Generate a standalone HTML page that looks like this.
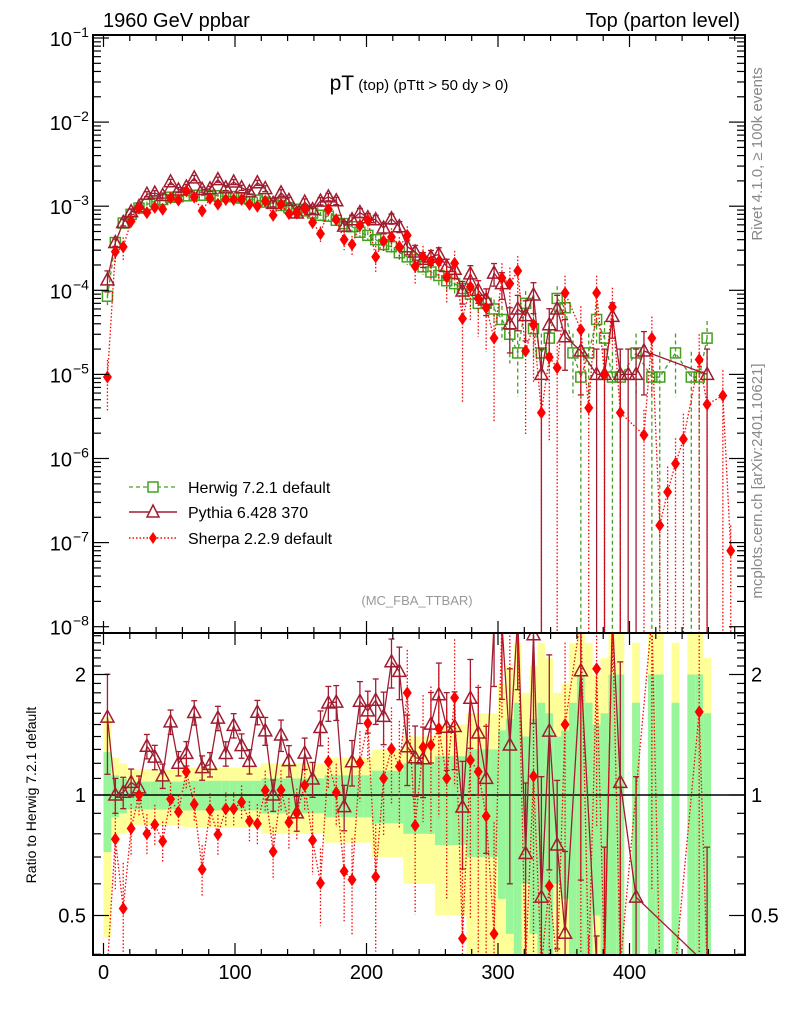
<!DOCTYPE html>
<html><head><meta charset="utf-8"><style>
html,body{margin:0;padding:0;background:#fff;width:786px;height:1024px;overflow:hidden;}
svg{display:block;font-family:"Liberation Sans",sans-serif;overflow:hidden;}
</style></head><body>
<svg id="chart" width="786" height="1024" viewBox="0 0 786 1024" xmlns="http://www.w3.org/2000/svg">
<defs>
<clipPath id="clipMain"><rect x="93" y="35" width="652" height="598"/></clipPath>
<clipPath id="clipRatio"><rect x="93" y="633" width="652" height="322"/></clipPath>
</defs>
<g id="bands" clip-path="url(#clipRatio)"></g>
<g id="marks"></g>
<rect x="93" y="35" width="652" height="598" fill="none" stroke="#000" stroke-width="2"/>
<rect x="93" y="633" width="652" height="322" fill="none" stroke="#000" stroke-width="2"/>
<g id="axes"></g>
<text x="103" y="27" font-size="20">1960 GeV ppbar</text>
<text x="740" y="27" font-size="20" text-anchor="end">Top (parton level)</text>
<text x="419" y="90" text-anchor="middle"><tspan font-size="21">pT</tspan><tspan font-size="15"> (top) (pTtt &gt; 50 dy &gt; 0)</tspan></text>
<text x="417" y="605" font-size="13" fill="#999" text-anchor="middle">(MC_FBA_TTBAR)</text>
<text transform="translate(762,154) rotate(-90)" font-size="15" fill="#888" text-anchor="middle">Rivet 4.1.0, ≥ 100k events</text>
<text transform="translate(762,481) rotate(-90)" font-size="15" fill="#888" text-anchor="middle">mcplots.cern.ch [arXiv:2401.10621]</text>
<text transform="translate(36,795) rotate(-90)" font-size="14" text-anchor="middle">Ratio to Herwig 7.2.1 default</text>
<g>
<g>
<line x1="129" y1="487" x2="177" y2="487" stroke="#44a020" stroke-width="1.3" stroke-dasharray="4,3"/>
<rect x="148" y="482" width="10" height="10" fill="#fff" stroke="#44a020" stroke-width="1.5"/>
<text x="188" y="493" font-size="16">Herwig 7.2.1 default</text></g>
<g>
<line x1="129" y1="512" x2="177" y2="512" stroke="#a01c30" stroke-width="1.5"/>
<path d="M153,505 L159,517 L147,517 Z" fill="#fff" stroke="#a01c30" stroke-width="1.5"/>
<text x="188" y="518" font-size="16">Pythia 6.428 370</text></g>
<g>
<line x1="129" y1="538" x2="177" y2="538" stroke="#ff0000" stroke-width="1.5" stroke-dasharray="1.5,2"/>
<path d="M153,532 L157,538 L153,544 L149,538 Z" fill="#ff0000"/>
<text x="188" y="544" font-size="16">Sherpa 2.2.9 default</text></g>
</g>
</svg>
<script>
const binCenters=[3,9,15,21,27,33,39,45,51,57,63,69,75,81,87,93,99,105,111,117,123,129,135,141,147,153,159,165,171,177,183,189,195,201,207,213,219,225,231,237,243,249,255,261,267,273,279,285,291,297,303,309,315,321,327,333,339,345,351,357,363,369,375,381,387,393,399,405,411,417,423,429,435,441,447,453,459,465,471,477];
const herwig=[8.5e-5,3.7e-4,6.3e-4,8.0e-4,9.5e-4,1.05e-3,1.15e-3,1.2e-3,1.28e-3,1.3e-3,1.33e-3,1.35e-3,1.35e-3,1.35e-3,1.33e-3,1.3e-3,1.3e-3,1.25e-3,1.22e-3,1.18e-3,1.12e-3,1.08e-3,1.02e-3,9.6e-4,9.2e-4,8.8e-4,8.3e-4,7.8e-4,7.6e-4,6.8e-4,6.2e-4,5.7e-4,4.9e-4,4.5e-4,4.0e-4,3.5e-4,3.3e-4,2.8e-4,2.5e-4,2.3e-4,1.9e-4,1.65e-4,1.5e-4,1.3e-4,1.2e-4,1.05e-4,9e-5,7e-5,7e-5,6e-5,4.5e-5,3e-5,1.8e-5,7e-5,3.5e-5,1.8e-5,2.7e-5,8e-5,6.2e-5,1.8e-5,9.3e-6,1.8e-5,4.5e-5,2.7e-5,9.3e-6,9.3e-6,null,1.8e-5,null,9.3e-6,9.3e-6,null,1.8e-5,null,9.3e-6,9.3e-6,2.7e-5,null,null,null];
const herwigErr=[0.28,0.12,0.1,0.08,0.08,0.08,0.08,0.08,0.08,0.08,0.085,0.085,0.085,0.085,0.085,0.085,0.085,0.085,0.085,0.085,0.1,0.1,0.1,0.1,0.1,0.1,0.1,0.1,0.12,0.12,0.12,0.12,0.12,0.12,0.15,0.15,0.15,0.15,0.2,0.2,0.2,0.2,0.25,0.25,0.25,0.25,0.3,0.3,0.3,0.3,0.45,0.55,0.7,0.4,0.55,0.7,0.6,0.4,0.45,0.7,1,0.7,0.5,0.6,1,1,null,0.7,null,1,1,null,0.7,null,1,1,0.6,null,null,null];
const pythia=[1.33e-4,3.7e-4,6.4e-4,8.6e-4,9.9e-4,1.39e-3,1.43e-3,1.34e-3,1.95e-3,1.56e-3,1.69e-3,2.17e-3,1.58e-3,1.61e-3,2.07e-3,1.65e-3,1.94e-3,1.66e-3,1.48e-3,1.9e-3,1.62e-3,1.08e-3,1.44e-3,1.17e-3,8.3e-4,1.12e-3,9.1e-4,1.15e-3,1.29e-3,1.16e-3,5.8e-4,6.9e-4,8.4e-4,7.3e-4,6.9e-4,5.5e-4,7.1e-4,5.7e-4,3.3e-4,2.85e-4,2.34e-4,2.48e-4,2.67e-4,1.92e-4,1.78e-4,9.8e-5,1.57e-4,1.0e-4,7.7e-5,1.6e-4,1.2e-4,4e-5,6e-5,5e-5,8.8e-5,1e-5,3.9e-5,6e-5,2.8e-5,null,1.9e-5,null,1e-5,1e-5,4.9e-5,1e-5,1e-5,1e-5,1.9e-5,null,null,null,null,null,null,null,1e-5,null,null,null];
const pythiaErr=[0.28,0.1,0.09,0.08,0.07,0.07,0.07,0.07,0.07,0.07,0.07,0.07,0.07,0.07,0.07,0.07,0.07,0.07,0.07,0.07,0.08,0.09,0.09,0.09,0.1,0.09,0.1,0.1,0.1,0.1,0.13,0.13,0.12,0.12,0.13,0.15,0.14,0.15,0.2,0.2,0.2,0.2,0.2,0.22,0.22,0.3,0.25,0.3,0.35,0.3,0.35,0.55,0.45,0.5,0.4,1,0.55,0.45,0.6,null,0.7,null,1,1,0.45,1,1,1,0.7,null,null,null,null,null,null,null,1,null,null,null];
const sherpa=[9.3e-6,2.87e-4,3.28e-4,6.6e-4,9.5e-4,8.4e-4,9.7e-4,9.2e-4,1.25e-3,1.18e-3,1.52e-3,1.28e-3,8.8e-4,1.24e-3,1.06e-3,1.2e-3,1.2e-3,1.2e-3,1.05e-3,1.0e-3,1.15e-3,7.8e-4,1.05e-3,8.2e-4,8.3e-4,9.3e-4,6.4e-4,4.7e-4,9.2e-4,6.9e-4,4.0e-4,3.5e-4,5.9e-4,6.8e-4,2.5e-4,3.85e-4,4.3e-4,3.3e-4,4.5e-4,1.93e-4,2.5e-4,2.2e-4,2.2e-4,1.43e-4,2.1e-4,4.6e-5,1.1e-4,8e-5,6.2e-5,2.7e-5,1.4e-4,1.2e-4,1.7e-4,1.9e-5,3.9e-5,3.5e-6,1.6e-5,1.2e-5,9.3e-5,null,3.4e-5,4e-6,9.3e-5,1e-5,6.3e-5,3.5e-6,null,null,1.9e-6,2.7e-5,1.6e-7,4e-7,8.7e-7,1.7e-6,null,1.5e-5,4.4e-6,null,5.6e-6,8e-8];
const sherpaErr=[0.6,0.25,0.3,0.15,0.12,0.12,0.12,0.12,0.1,0.1,0.1,0.1,0.15,0.1,0.12,0.1,0.1,0.1,0.12,0.12,0.12,0.15,0.12,0.15,0.15,0.14,0.18,0.22,0.15,0.18,0.25,0.27,0.2,0.2,0.35,0.28,0.27,0.3,0.28,0.4,0.35,0.4,0.4,0.5,0.4,0.9,0.6,0.65,0.7,0.9,0.5,0.55,0.5,0.9,0.8,1,0.9,1,0.6,null,0.9,1,0.6,1,0.7,1,null,null,1,0.8,1,1,1,1,null,1,1,null,1,1];
const ratioTicks=[0.5,1,2];
const xTickLabels=[0,100,200,300,400];
const yDecades=[-1,-2,-3,-4,-5,-6,-7,-8];

const NS='http://www.w3.org/2000/svg';
const X0=93,X1=745,MT=35,MB=633,RT=633,RB=955;
const xS=v=>103.5+1.315*v;
const yM=v=>38+(-1-Math.log10(v))*84.1;
const yR=r=>795-Math.log2(r)*120.5;
const clampM=y=>Math.max(MT-15,Math.min(MB+15,y));
const clampR=y=>Math.max(RT-15,Math.min(RB+10,y));
const HC='#44a020',PC='#a01c30',SC='#ff0000';
function mk(tag,attrs,parent){const e=document.createElementNS(NS,tag);for(const k in attrs)e.setAttribute(k,attrs[k]);parent.appendChild(e);return e;}
const marks=document.getElementById('marks');
const bands=document.getElementById('bands');
const axes=document.getElementById('axes');

binCenters.forEach((c,i)=>{
  const h=herwig[i],e=herwigErr[i];
  if(h==null||e==null)return;
  const xa=xS(c-3),xb=xS(c+3);
  const yl=1-2*e, yh=1+2*e;
  const yt1=clampR(yR(yh)), yb1=yl>0.01?clampR(yR(yl)):RB+5;
  const ry=mk('rect',{x:xa,y:yt1,width:xb-xa,height:yb1-yt1,fill:'#ffff99'},bands);
  
  
  const gl=1-e,gh=1+e;
  const yt2=clampR(yR(gh)), yb2=gl>0.01?clampR(yR(gl)):RB+5;
  const rg=mk('rect',{x:xa,y:yt2,width:xb-xa,height:yb2-yt2,fill:'#99f599'},bands);
  
  
});
const unity=mk('line',{x1:X0,x2:X1,y1:yR(1),y2:yR(1),stroke:'#000','stroke-width':1.5},marks);



function marker(type,x,y,col,g){
  let m;
  if(type==='sq')m=mk('rect',{x:x-5,y:y-5,width:10,height:10,fill:'none',stroke:col,'stroke-width':1.5},g);
  else if(type==='tri')m=mk('path',{d:`M${x},${y-7} L${x+6.5},${y+5} L${x-6.5},${y+5} Z`,fill:'none',stroke:col,'stroke-width':1.5},g);
  else m=mk('path',{d:`M${x},${y-6.5} L${x+4.5},${y} L${x},${y+6.5} L${x-4.5},${y} Z`,fill:col},g);
  return m;
}
function series(vals,errs,col,type,dash,name,isRatio){
  const g=mk('g',{'clip-path':isRatio?'url(#clipRatio)':'url(#clipMain)'},marks);
  
  
  const ys=isRatio?(v=>clampR(yR(v))):(v=>clampM(yM(v)));
  const bot=isRatio?RB+5:MB+5;
  const pts=[];
  binCenters.forEach((c,i)=>{
    let v=vals[i],e=errs[i];
    if(v==null||e==null)return;
    if(isRatio){ if(herwig[i]==null)return; v=v/herwig[i]; }
    const x=xS(c),y=ys(v);
    pts.push([x,y]);
    const lo=v*(1-e),hi=v*(1+e);
    const eb=mk('line',{x1:x,x2:x,y1:ys(hi),y2:lo>1e-12?ys(lo):bot,stroke:col,'stroke-width':1.3},g);
    if(dash)eb.setAttribute('stroke-dasharray',dash);
    
    
    if(type==='tri'){mk('line',{x1:x-3,x2:x+3,y1:ys(hi),y2:ys(hi),stroke:col,'stroke-width':1.3},g);
      if(lo>1e-12)mk('line',{x1:x-3,x2:x+3,y1:ys(lo),y2:ys(lo),stroke:col,'stroke-width':1.3},g);}
  });
  const pl=mk('polyline',{points:pts.map(p=>p.join(',')).join(' '),fill:'none',stroke:col,'stroke-width':1.3},g);
  if(dash)pl.setAttribute('stroke-dasharray',dash);
  
  
  pts.forEach(p=>{const m=marker(type,p[0],p[1],col,g);
    
    });
}
series(herwig,herwigErr,HC,'sq','4,3','herwig-series',false);
series(pythia,pythiaErr,PC,'tri',null,'pythia-series',false);
series(sherpa,sherpaErr,SC,'dia','1.5,2','sherpa-series',false);
series(pythia,pythiaErr,PC,'tri',null,'pythia-ratio-series',true);
series(sherpa,sherpaErr,SC,'dia','1.5,2','sherpa-ratio-series',true);

function tl(x1,y1,x2,y2){mk('line',{x1,y1,x2,y2,stroke:'#000','stroke-width':1.2},axes);}
for(let v=0;v<=480;v+=20){
  const x=xS(v),maj=v%100===0,L=maj?12:6;
  [[MT,1],[MB,-1],[RT,1],[RB,-1]].forEach(([y,d])=>tl(x,y,x,y+d*L));
}
xTickLabels.forEach(v=>{
  const t=mk('text',{x:xS(v),y:979,'font-size':20,'text-anchor':'middle'},axes);
  t.textContent=String(v);
  
  
});
yDecades.forEach(d=>{
  const base=Math.pow(10,d);const y=yM(base);
  tl(X0,y,X0+16,y);tl(X1,y,X1-16,y);
  if(d>-8){for(let m=2;m<=9;m++){const yy=yM(base*m/10);tl(X0,yy,X0+8,yy);tl(X1,yy,X1-8,yy);}}
  const t=mk('text',{x:72,y:y+8,'font-size':20,'text-anchor':'end'},axes);
  t.textContent='10';
  
  
  const s=mk('text',{x:73,y:y-1,'font-size':14},axes);
  s.textContent='−'+Math.abs(d);
  
  
});
[0.4,0.6,0.7,0.8,0.9,1.1,1.2,1.3,1.4,1.5,1.6,1.7,1.8,1.9,2.1,2.2,2.3,2.4,2.5].forEach(r=>{const y=yR(r);if(y>RT&&y<RB){tl(X0,y,X0+8,y);tl(X1,y,X1-8,y);}});
ratioTicks.forEach(r=>{
  const y=yR(r);tl(X0,y,X0+16,y);tl(X1,y,X1-16,y);
  const t=mk('text',{x:86,y:y+7,'font-size':20,'text-anchor':'end'},axes);
  t.textContent=String(r);
  
  
  const t2=mk('text',{x:751,y:y+7,'font-size':20},axes);
  t2.textContent=String(r);
  
  
});
</script>
</body></html>
